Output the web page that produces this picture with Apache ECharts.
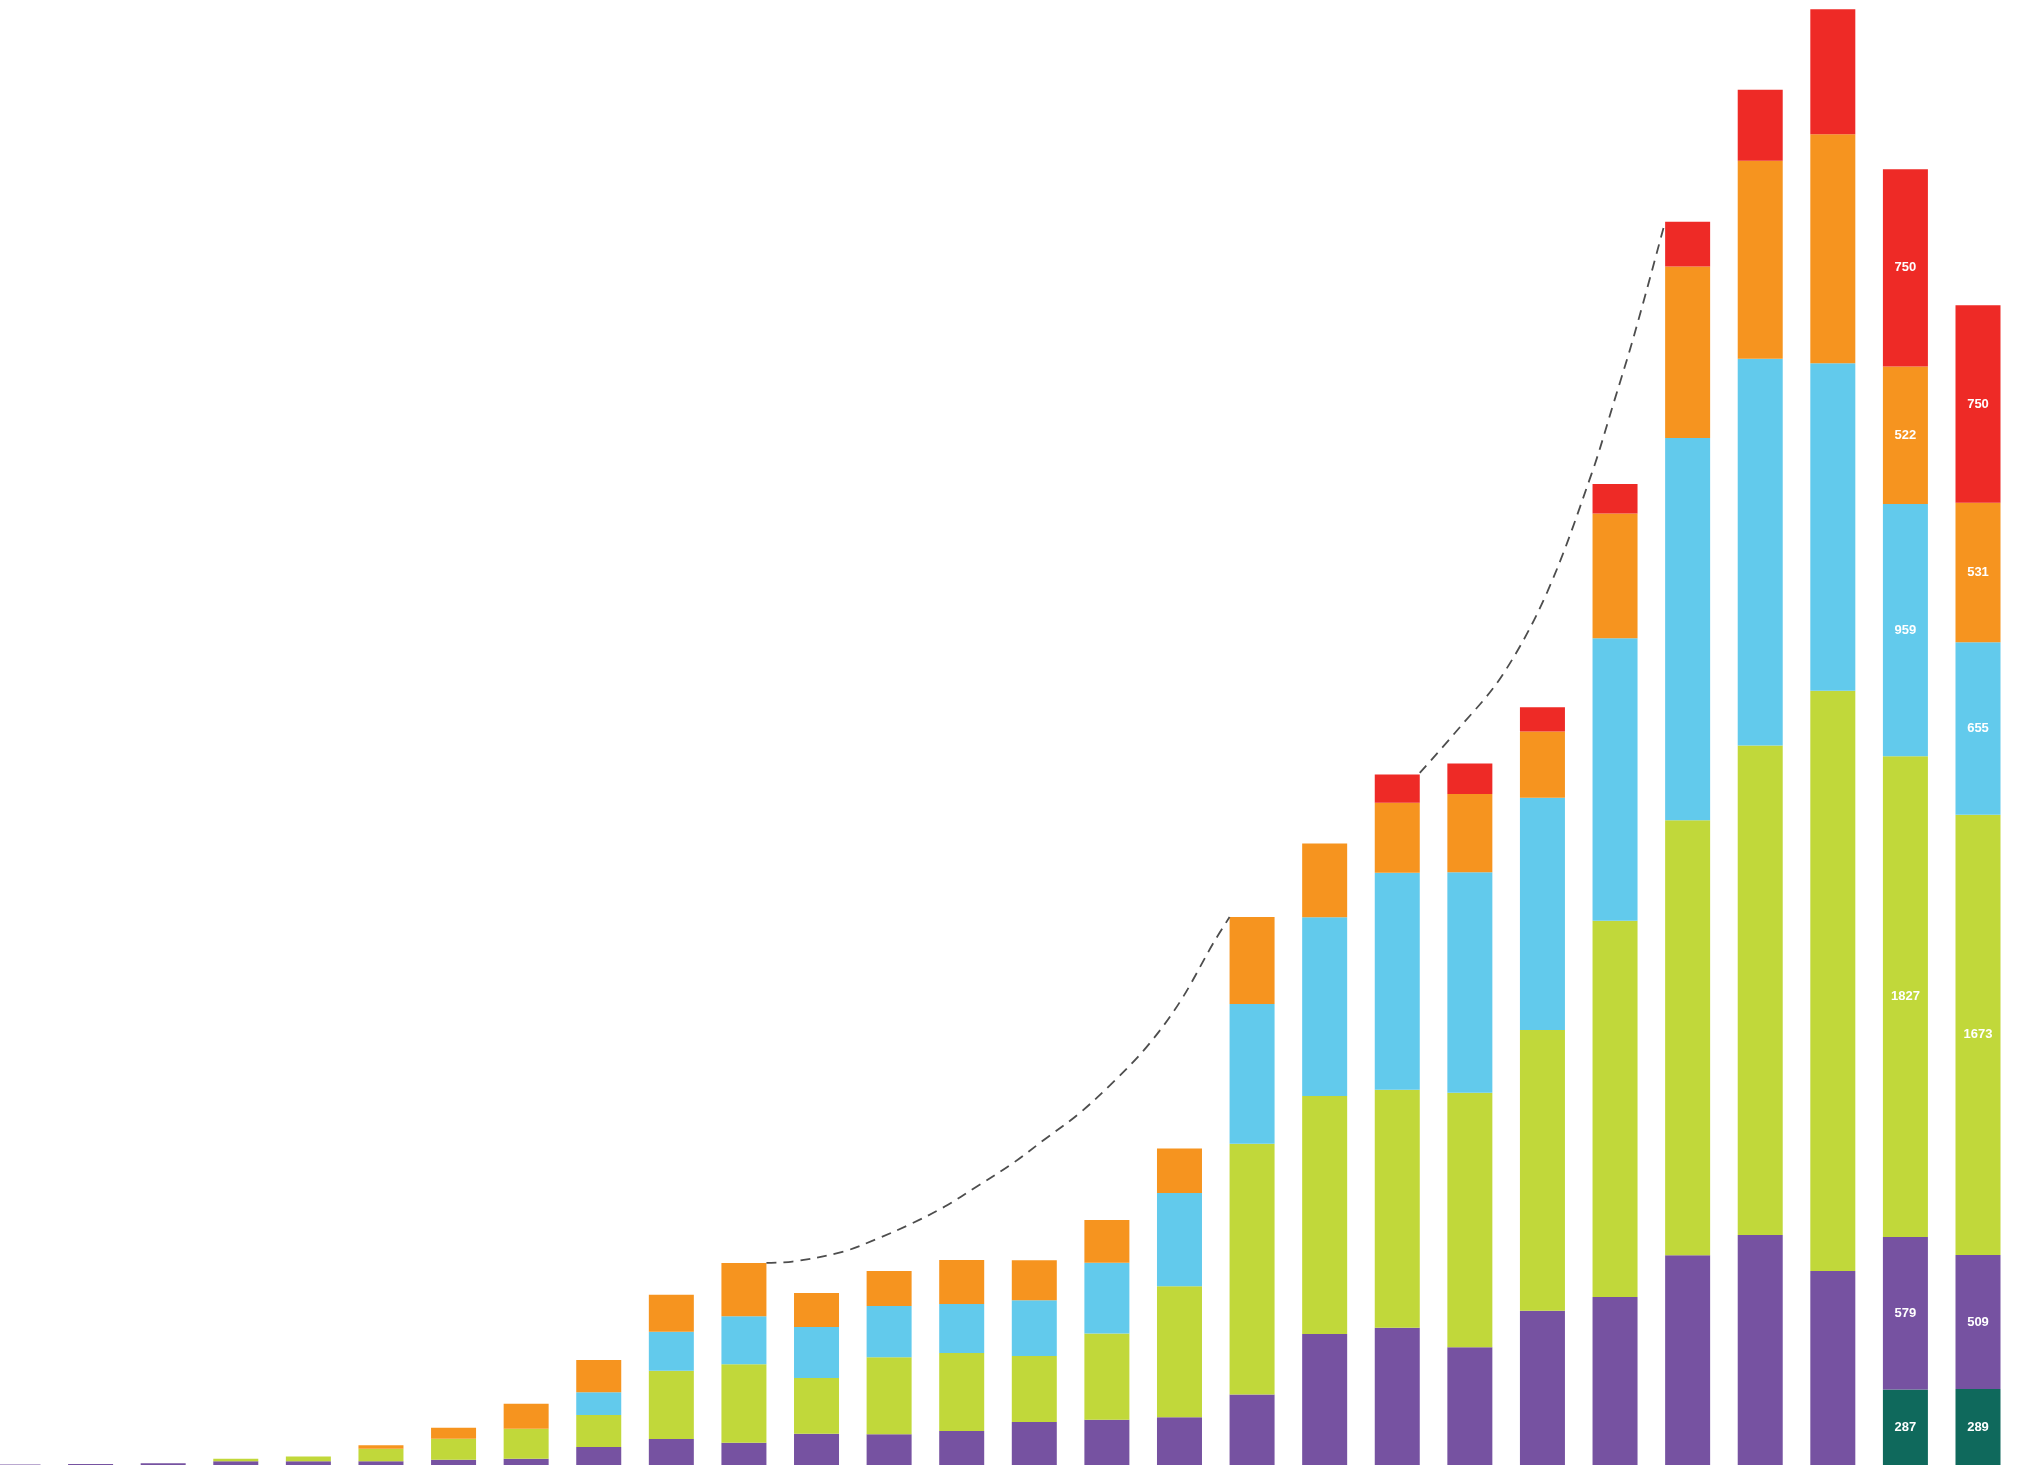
<!DOCTYPE html>
<html>
<head>
<meta charset="utf-8">
<style>
  html, body { margin: 0; padding: 0; background: #ffffff; }
  #chart { width: 2017px; height: 1473px; }
</style>
<script src="https://cdn.jsdelivr.net/npm/echarts@6/dist/echarts.min.js"></script>
</head>
<body>
<div id="chart"></div>
<script>
// ---- data ----
const categories = ['1','2','3','4','5','6','7','8','9','10','11','12','13','14','15','16','17','18','19','20','21','22','23','24','25','26','27','28'];

const teal   = [0,0,0,0,0,0,0,0,0,0,0,0,0,0,0,0,0,0,0,0,0,0,0,0,0,0,287,289];
const purple = [2,4,7,14,14,14,20,24,68,99,85,119,117,129,163,172,181,268,498,522,447,586,638,797,874,737,579,509];
const green  = [0,0,0,10,18,48,80,114,122,259,298,212,292,297,251,328,498,953,904,904,968,1067,1430,1653,1860,2205,1827,1673];
const blue   = [0,0,0,0,0,0,0,0,86,148,182,193,195,186,212,269,355,531,679,825,837,883,1074,1453,1470,1245,959,655];
const orange = [0,0,0,0,0,13,42,95,123,141,203,130,133,167,152,162,169,330,281,266,298,251,474,651,752,870,522,531];
const red    = [0,0,0,0,0,0,0,0,0,0,0,0,0,0,0,0,0,0,0,107,116,92,112,170,270,475,750,750];

// dashed trend arcs: [category position, value]
const curveA = [[10.31,768],[10.67,773],[11.37,811],[11.83,859],[12.30,916],[12.76,981],[13.22,1060],[13.69,1144],[14.15,1239],[14.61,1334],[15.08,1453],[15.54,1586],[16.00,1757],[16.47,1985],[16.69,2082]];
const curveB = [[19.31,2630],[19.82,2790],[20.45,3002],[21.07,3320],[21.68,3769],[21.98,4035],[22.27,4300],[22.69,4724]];

const labelFrom = 26; // only the last two bars carry value labels

const colors = {
  teal: '#0f695c', purple: '#7652a1', green: '#c1d83a',
  blue: '#62caec', orange: '#f6941f', red: '#ee2a26'
};

function barSeries(name, data, color) {
  return {
    name: name, type: 'bar', stack: 'total', xAxisIndex: 0, yAxisIndex: 0,
    data: data, barWidth: 45, clip: false,
    itemStyle: { color: color },
    label: {
      show: true, position: 'inside', color: '#ffffff',
      fontFamily: 'Liberation Sans, Arial, sans-serif', fontWeight: 'bold', fontSize: 13,
      formatter: function (p) { return (p.dataIndex >= labelFrom && p.value) ? String(p.value) : ''; }
    },
    emphasis: { disabled: true }
  };
}

function curveSeries(data) {
  return {
    type: 'line', xAxisIndex: 1, yAxisIndex: 0, data: data,
    smooth: 0.35, symbol: 'none', clip: false, z: 5,
    lineStyle: { color: '#4d4d4d', width: 1.8, type: [10, 7] },
    emphasis: { disabled: true }
  };
}

const chart = echarts.init(document.getElementById('chart'), null, { renderer: 'canvas' });
chart.setOption({
  animation: false,
  backgroundColor: '#ffffff',
  grid: { left: 18, right: 39, top: 0, bottom: 8, containLabel: false },
  xAxis: [
    { type: 'category', data: categories, boundaryGap: false, show: false },
    { type: 'value', min: 0, max: categories.length - 1, show: false }
  ],
  yAxis: { type: 'value', min: 0, max: 5567, show: false, splitLine: { show: false } },
  series: [
    barSeries('teal', teal, colors.teal),
    barSeries('purple', purple, colors.purple),
    barSeries('green', green, colors.green),
    barSeries('blue', blue, colors.blue),
    barSeries('orange', orange, colors.orange),
    barSeries('red', red, colors.red),
    curveSeries(curveA),
    curveSeries(curveB)
  ]
});
</script>
</body>
</html>
